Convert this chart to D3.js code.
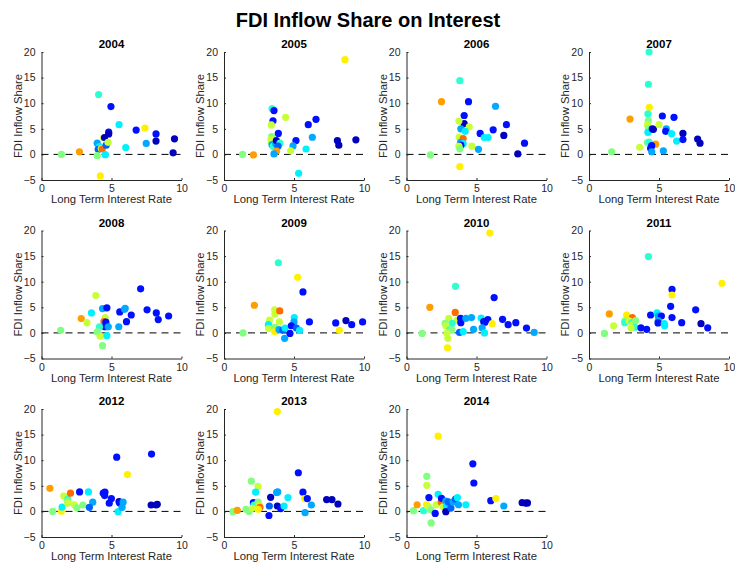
<!DOCTYPE html>
<html>
<head>
<meta charset="utf-8">
<script src="https://cdn.jsdelivr.net/npm/d3@7"></script>
<style>
  body { margin: 0; background: #fff; }
  svg { display: block; font-family: "Liberation Sans", Arial, sans-serif; }
</style>
</head>
<body>
<svg id="fig" width="735" height="563"></svg>
<script>
// Colour variable for each economy, read through a jet colormap
const colorLevels = {
  n: 0.06,  // navy
  b: 0.14,  // blue
  m: 0.22,  // mid blue
  l: 0.29,  // light blue
  c: 0.36,  // cyan
  a: 0.42,  // aqua
  g: 0.50,  // light green
  y: 0.57,  // yellow-green
  Y: 0.64,  // yellow
  o: 0.72,  // orange
  r: 0.77   // orange-red
};

const years = ["2004","2005","2006","2007","2008","2009","2010","2011","2012","2013","2014"];
const xTicks = [0, 5, 10];
const yTicks = [-5, 0, 5, 10, 15, 20];

// [long term interest rate, FDI inflow share, colour key]
const d2004 = [
  [1.42,0.0,"g"],[2.71,0.5,"o"],[4.08,11.7,"a"],[4.96,9.35,"b"],[5.54,5.8,"c"],
  [4.8,4.35,"b"],[4.8,4.0,"n"],[6.76,4.75,"b"],[7.39,5.15,"Y"],[8.18,4.0,"b"],
  [8.18,2.6,"n"],[9.5,3.05,"n"],[9.4,0.3,"n"],[7.48,2.15,"l"],[6.02,1.35,"c"],
  [3.98,2.2,"l"],[4.15,1.5,"c"],[4.05,1.0,"m"],[4.27,1.15,"y"],[4.34,1.05,"r"],
  [4.44,3.2,"y"],[4.5,3.3,"n"],[4.62,1.8,"m"],[4.75,2.35,"y"],[3.98,-0.25,"g"],
  [4.56,-0.05,"c"],[4.2,-4.2,"Y"]
];
const d2005 = [
  [1.33,0.0,"g"],[2.1,-0.1,"o"],[8.64,18.5,"Y"],[3.43,8.95,"a"],[3.57,8.55,"b"],
  [4.4,7.25,"y"],[3.5,6.55,"b"],[3.38,5.75,"y"],[3.88,4.1,"b"],[6.02,5.8,"b"],
  [6.57,6.85,"b"],[6.31,3.35,"l"],[5.14,2.7,"b"],[4.93,1.65,"l"],[5.86,1.05,"c"],
  [4.76,0.7,"y"],[5.33,-3.7,"c"],[8.1,2.7,"n"],[8.2,1.8,"n"],[9.42,2.85,"n"],
  [3.4,3.5,"g"],[3.36,2.95,"y"],[3.38,2.4,"y"],[3.43,1.9,"l"],[3.52,1.55,"a"],
  [3.7,2.1,"l"],[3.74,2.7,"n"],[4.0,2.2,"a"],[3.86,1.6,"m"],[3.76,0.65,"o"],
  [3.57,0.1,"l"]
];
const d2006 = [
  [1.71,-0.1,"g"],[2.5,10.3,"o"],[3.81,14.4,"a"],[4.43,10.3,"b"],[6.36,9.4,"l"],
  [4.12,7.6,"b"],[4.12,6.0,"n"],[3.74,6.5,"y"],[4.48,5.4,"y"],[3.88,5.0,"l"],
  [4.19,4.5,"c"],[3.76,3.4,"y"],[4.05,3.1,"r"],[3.86,2.35,"l"],[4.05,2.1,"c"],
  [3.88,1.8,"b"],[3.74,1.6,"y"],[3.81,1.1,"g"],[4.67,1.6,"y"],[5.14,1.0,"l"],
  [5.26,4.1,"b"],[6.19,4.8,"b"],[5.55,3.3,"c"],[5.83,3.3,"c"],[7.14,5.8,"b"],
  [6.95,3.7,"n"],[8.43,2.2,"b"],[7.95,0.1,"n"],[3.81,-2.4,"Y"]
];
const d2007 = [
  [1.62,0.5,"g"],[2.93,6.9,"o"],[3.62,1.4,"y"],[4.29,20.0,"a"],[4.24,13.7,"a"],
  [4.31,9.2,"Y"],[4.21,7.9,"a"],[4.24,6.6,"g"],[4.17,5.75,"y"],[4.24,5.0,"g"],
  [4.21,4.3,"c"],[4.52,5.0,"b"],[4.6,4.9,"n"],[5.24,7.5,"b"],[6.07,7.25,"b"],
  [5.0,5.8,"y"],[5.52,5.0,"l"],[5.48,4.5,"b"],[5.9,4.05,"c"],[6.26,2.6,"c"],
  [6.71,4.1,"n"],[6.71,2.9,"b"],[7.76,3.0,"n"],[7.93,2.2,"n"],[4.17,2.3,"g"],
  [4.29,2.4,"a"],[4.76,2.0,"o"],[4.48,1.7,"b"],[4.4,1.2,"b"],[4.48,0.5,"l"],
  [5.31,0.7,"l"]
];
const d2008 = [
  [1.37,0.5,"g"],[2.84,2.8,"o"],[3.25,2.0,"y"],[3.57,3.9,"c"],[3.88,7.3,"y"],
  [4.36,4.75,"l"],[4.67,4.9,"b"],[4.55,3.0,"y"],[4.46,2.2,"r"],[4.6,2.1,"b"],
  [4.53,1.2,"b"],[4.14,1.2,"a"],[4.77,1.2,"l"],[3.98,0.2,"g"],[4.19,-0.65,"y"],
  [4.67,-0.55,"c"],[4.36,-2.5,"g"],[5.59,4.1,"b"],[5.93,4.6,"l"],[5.98,4.8,"l"],
  [5.52,1.2,"l"],[6.07,2.2,"b"],[6.41,3.5,"b"],[7.08,8.6,"b"],[7.54,4.5,"b"],
  [8.2,3.9,"b"],[8.34,2.6,"b"],[9.08,3.3,"b"]
];
const d2009 = [
  [1.36,0.0,"g"],[2.17,5.4,"o"],[3.88,13.7,"a"],[5.26,10.85,"Y"],[5.64,8.0,"b"],
  [3.62,4.5,"y"],[3.64,3.65,"y"],[3.98,4.3,"r"],[3.26,2.5,"y"],[3.95,2.15,"y"],
  [3.17,1.6,"c"],[3.19,0.85,"y"],[3.62,1.1,"g"],[3.62,0.25,"Y"],[3.93,0.65,"l"],
  [4.19,0.5,"m"],[4.36,0.95,"c"],[5.02,3.0,"c"],[5.0,2.15,"l"],[4.81,1.4,"b"],
  [5.17,0.95,"m"],[5.4,0.5,"c"],[4.71,-0.1,"b"],[4.33,-1.05,"l"],[6.1,2.15,"b"],
  [7.98,1.95,"b"],[8.71,2.4,"n"],[9.12,1.6,"b"],[9.9,2.15,"b"],[8.24,0.5,"Y"]
];
const d2010 = [
  [1.12,-0.1,"g"],[1.67,5.0,"o"],[3.5,9.1,"a"],[5.95,19.5,"Y"],[6.26,6.9,"b"],
  [3.48,4.0,"r"],[3.02,2.85,"y"],[3.62,2.5,"y"],[3.26,1.85,"a"],[2.76,1.85,"g"],
  [2.81,1.4,"y"],[3.1,0.6,"a"],[3.24,0.6,"g"],[2.88,-0.05,"y"],[2.95,-1.05,"y"],
  [2.93,-2.9,"Y"],[3.86,2.85,"b"],[3.88,2.0,"b"],[3.79,0.1,"m"],[4.05,0.25,"c"],
  [4.24,2.85,"l"],[4.64,3.0,"l"],[4.79,0.7,"l"],[5.33,2.9,"c"],[5.81,2.6,"b"],
  [5.52,2.2,"n"],[5.6,2.1,"b"],[6.12,1.8,"Y"],[5.4,1.0,"l"],[5.57,0.0,"c"],
  [6.86,2.65,"b"],[7.26,1.6,"b"],[7.81,2.0,"b"],[8.57,0.95,"b"],[9.12,0.1,"l"]
];
const d2011 = [
  [1.1,-0.1,"g"],[1.45,3.7,"o"],[1.76,1.4,"y"],[4.24,14.9,"a"],[9.5,9.7,"Y"],
  [5.93,8.5,"b"],[5.93,7.4,"Y"],[5.83,5.2,"b"],[5.93,3.0,"b"],[7.62,4.5,"b"],
  [6.62,2.0,"b"],[8.0,1.8,"n"],[8.48,1.0,"b"],[2.69,3.5,"Y"],[3.1,3.0,"r"],
  [2.57,2.35,"g"],[2.55,2.0,"a"],[2.86,2.35,"y"],[3.07,2.0,"a"],[3.12,1.6,"y"],
  [3.33,2.4,"g"],[3.29,1.1,"a"],[3.0,1.0,"y"],[3.71,1.0,"b"],[4.12,0.7,"b"],
  [4.4,3.5,"b"],[4.86,3.9,"c"],[4.95,3.3,"l"],[5.17,3.3,"b"],[4.95,2.4,"l"],
  [4.93,1.95,"b"],[5.38,1.8,"c"],[5.4,1.4,"c"]
];
const d2012 = [
  [0.6,4.5,"o"],[0.8,0.0,"g"],[1.42,0.05,"Y"],[1.47,0.85,"c"],[1.59,3.0,"y"],
  [1.88,2.4,"a"],[1.86,2.0,"g"],[1.88,1.6,"y"],[2.07,3.55,"r"],[2.34,1.3,"y"],
  [2.53,0.7,"g"],[2.96,1.25,"g"],[2.72,3.8,"b"],[3.35,3.8,"c"],[3.66,1.8,"l"],
  [3.42,0.8,"m"],[4.41,3.55,"b"],[4.53,3.75,"b"],[4.51,3.1,"b"],[4.99,2.5,"b"],
  [4.84,1.6,"b"],[5.37,10.6,"b"],[5.54,1.9,"n"],[5.59,1.65,"b"],[5.47,-0.05,"c"],
  [5.83,1.8,"l"],[5.76,0.8,"l"],[6.14,7.2,"Y"],[7.86,11.2,"b"],[7.83,1.25,"n"],
  [8.19,1.25,"n"],[8.27,1.4,"n"]
];
const d2013 = [
  [0.64,-0.05,"g"],[0.95,0.2,"o"],[1.57,0.4,"g"],[1.79,0.0,"g"],[1.95,5.9,"g"],
  [2.43,4.9,"y"],[2.26,3.75,"c"],[2.1,1.7,"b"],[2.14,1.25,"a"],[2.05,0.6,"y"],
  [2.43,1.8,"g"],[2.52,1.25,"y"],[2.57,0.8,"r"],[2.45,0.4,"Y"],[3.21,-0.8,"b"],
  [3.24,1.05,"m"],[3.33,2.75,"n"],[3.81,19.5,"Y"],[3.76,3.7,"l"],[3.84,3.8,"l"],
  [3.81,1.05,"n"],[4.05,0.55,"b"],[4.29,1.05,"c"],[4.57,2.7,"c"],[5.31,7.55,"b"],
  [5.64,3.75,"b"],[5.76,2.5,"Y"],[5.95,2.5,"b"],[5.79,-0.25,"l"],[6.24,1.25,"l"],
  [7.33,2.3,"n"],[7.71,2.3,"n"],[8.14,1.45,"n"]
];
const d2014 = [
  [0.5,0.15,"g"],[0.76,1.3,"o"],[1.21,0.15,"a"],[1.45,6.85,"g"],[1.45,5.1,"y"],
  [1.43,1.3,"Y"],[1.6,2.7,"b"],[1.55,0.9,"y"],[1.74,0.3,"g"],[1.76,-2.25,"g"],
  [2.05,-0.4,"b"],[2.12,1.3,"y"],[2.26,14.7,"Y"],[2.26,3.35,"c"],[2.48,1.85,"r"],
  [2.5,2.55,"b"],[2.62,0.9,"y"],[2.81,2.0,"l"],[2.86,1.05,"c"],[2.81,-0.05,"n"],
  [2.98,1.85,"m"],[3.17,0.65,"m"],[3.33,1.85,"l"],[3.5,2.4,"m"],[3.64,2.7,"c"],
  [3.71,1.3,"l"],[4.24,1.3,"c"],[4.74,9.3,"b"],[4.81,5.55,"b"],[6.02,2.1,"b"],
  [6.38,2.5,"Y"],[6.95,1.05,"l"],[8.26,1.7,"n"],[8.52,1.6,"n"],[8.64,1.65,"n"]
];
const panels = [d2004, d2005, d2006, d2007, d2008, d2009, d2010, d2011, d2012, d2013, d2014];

// jet colormap
function jet(t) {
  const cl = v => Math.max(0, Math.min(1, v));
  const r = cl(1.5 - Math.abs(4 * t - 3));
  const g = cl(1.5 - Math.abs(4 * t - 2));
  const b = cl(1.5 - Math.abs(4 * t - 1));
  return d3.rgb(r * 255, g * 255, b * 255).formatHex();
}

const svg = d3.select("#fig");
svg.append("rect").attr("width", 735).attr("height", 563).attr("fill", "#fff");

svg.append("text")
  .attr("x", 368).attr("y", 27)
  .attr("text-anchor", "middle")
  .attr("font-size", 20).attr("font-weight", "bold").attr("fill", "#000")
  .text("FDI Inflow Share on Interest");

const plotW = 140, plotH = 128;
const colStep = 182.5, rowStep = 178.5;
const left0 = 41.5, top0 = 52;
const axisColor = "#262626";

panels.forEach((pts, i) => {
  const col = i % 4, row = Math.floor(i / 4);
  const gx = left0 + col * colStep, gy = top0 + row * rowStep;
  const g = svg.append("g").attr("transform", `translate(${gx},${gy})`);

  const x = d3.scaleLinear().domain([0, 10]).range([0, plotW]);
  const y = d3.scaleLinear().domain([-5, 20]).range([plotH, 0]);

  // zero reference line
  g.append("line")
    .attr("x1", x(0)).attr("x2", x(10))
    .attr("y1", y(0)).attr("y2", y(0))
    .attr("stroke", "#000").attr("stroke-width", 1)
    .attr("stroke-dasharray", "7,5");

  // points
  g.selectAll("circle").data(pts).join("circle")
    .attr("cx", d => x(d[0]))
    .attr("cy", d => y(d[1]))
    .attr("r", 3.6)
    .attr("fill", d => jet(colorLevels[d[2]]));

  // axes
  const xa = g.append("g").attr("transform", `translate(0,${plotH})`)
    .call(d3.axisBottom(x).tickValues(xTicks).tickFormat(d3.format("d"))
      .tickSizeInner(-2).tickSizeOuter(0).tickPadding(5));
  const ya = g.append("g")
    .call(d3.axisLeft(y).tickValues(yTicks).tickFormat(d3.format("d"))
      .tickSizeInner(-2).tickSizeOuter(0).tickPadding(6));
  [xa, ya].forEach(a => {
    a.select(".domain").attr("stroke", axisColor);
    a.selectAll(".tick line").attr("stroke", axisColor);
    a.selectAll(".tick text").attr("fill", axisColor)
      .attr("font-size", 10.5).attr("font-family", "Liberation Sans, Arial, sans-serif");
  });

  // titles and labels
  g.append("text")
    .attr("x", plotW / 2).attr("y", -4)
    .attr("text-anchor", "middle")
    .attr("font-size", 11.5).attr("font-weight", "bold").attr("fill", "#000")
    .text(years[i]);
  g.append("text")
    .attr("x", plotW / 2).attr("y", plotH + 23)
    .attr("text-anchor", "middle")
    .attr("font-size", 11.3).attr("fill", axisColor)
    .text("Long Term Interest Rate");
  g.append("text")
    .attr("transform", `translate(-20,${plotH / 2}) rotate(-90)`)
    .attr("text-anchor", "middle")
    .attr("font-size", 11.3).attr("fill", axisColor)
    .text("FDI Inflow Share");
});
</script>
</body>
</html>
